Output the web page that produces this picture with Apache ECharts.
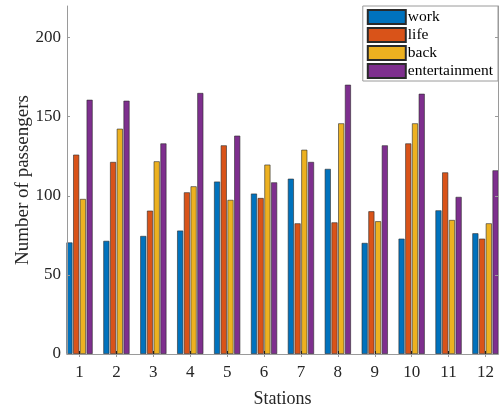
<!DOCTYPE html>
<html>
<head>
<meta charset="utf-8">
<script src="https://cdn.jsdelivr.net/npm/echarts@6/dist/echarts.min.js"></script>
<style>html,body{margin:0;padding:0;background:#fff}#c{width:499px;height:404px}</style>
</head>
<body>
<div id="c"></div>
<script>
const stations = [1,2,3,4,5,6,7,8,9,10,11,12];
const seriesNames = ['work','life','back','entertainment'];
const work = [70.5,71.5,74.6,78,109,101.4,110.8,117,70.2,72.9,90.8,76.3];
const life = [126,121.4,90.6,102.2,131.9,98.6,82.6,83.2,90.2,133.1,114.8,72.9];
const back = [98,142.4,121.8,106,97.4,119.7,129.1,145.8,83.9,145.8,84.7,82.6];
const entertainment = [160.7,160.1,133.1,165,138,108.5,121.4,170.2,131.9,164.5,99.3,116.1];
const yTicks = [0,50,100,150,200];
const colors = ['#0072BD','#D95319','#EDB120','#7E2F8E'];

const values = [work, life, back, entertainment];
const font = 'Liberation Serif';
const frameColor = '#9a9a9a';

const chart = echarts.init(document.getElementById('c'), null, {renderer:'canvas'});
const series = seriesNames.map((n,i)=>({
  name:n, type:'bar', xAxisIndex:0, yAxisIndex:0,
  data: stations.map((s,k)=>[s, values[i][k]]),
  barWidth:6, barGap:'12%',
  itemStyle:{color:colors[i], borderColor:'#2a2a2a', borderWidth:0.6},
  emphasis:{disabled:true}, animation:false
}));

chart.setOption({
  animation:false,
  textStyle:{fontFamily:font},
  grid:{left:67, right:1, top:6, bottom:50, containLabel:false, outerBoundsMode:'none'},
  legend:{
    orient:'vertical', right:1, top:6,
    padding:[3,5,2,4], itemGap:2, itemWidth:38, itemHeight:14, icon:'rect',
    backgroundColor:'#fff', borderColor:frameColor, borderWidth:1,
    textStyle:{fontFamily:font, fontSize:15.5, color:'#000', padding:[0,0,0,-3]},
    data:seriesNames, selectedMode:false
  },
  xAxis:[{
    type:'value', min:0.66, max:12.34, position:'bottom', z:5,
    name:'Stations', nameLocation:'middle', nameGap:36, nameMoveOverlap:false,
    nameTextStyle:{fontFamily:font, fontSize:18, color:'#262626'},
    axisLine:{show:true, lineStyle:{color:frameColor, width:1}},
    axisTick:{show:true, inside:true, length:3, customValues:stations, lineStyle:{color:'#222'}},
    axisLabel:{show:true, customValues:stations, margin:10, fontFamily:font, fontSize:17, color:'#262626'},
    splitLine:{show:false}
  },{
    type:'value', min:0.66, max:12.34, position:'top', z:5,
    axisLine:{show:true, lineStyle:{color:frameColor, width:1}},
    axisTick:{show:true, inside:true, length:3, customValues:stations, lineStyle:{color:frameColor}},
    axisLabel:{show:false},
    splitLine:{show:false}
  }],
  yAxis:[{
    type:'value', min:0, max:220, position:'left', z:5,
    name:'Number of passengers', nameLocation:'middle', nameGap:34, nameMoveOverlap:false,
    nameTextStyle:{fontFamily:font, fontSize:19, color:'#262626'},
    axisLine:{show:true, lineStyle:{color:frameColor, width:1}},
    axisTick:{show:true, inside:true, length:3, customValues:yTicks, lineStyle:{color:frameColor}},
    axisLabel:{show:true, customValues:yTicks, margin:6, fontFamily:font, fontSize:17, color:'#262626'},
    splitLine:{show:false}
  },{
    type:'value', min:0, max:220, position:'right', z:5,
    axisLine:{show:true, lineStyle:{color:frameColor, width:1}},
    axisTick:{show:true, inside:true, length:3, customValues:yTicks, lineStyle:{color:frameColor}},
    axisLabel:{show:false},
    splitLine:{show:false}
  }],
  series: series
});
</script>
</body>
</html>
